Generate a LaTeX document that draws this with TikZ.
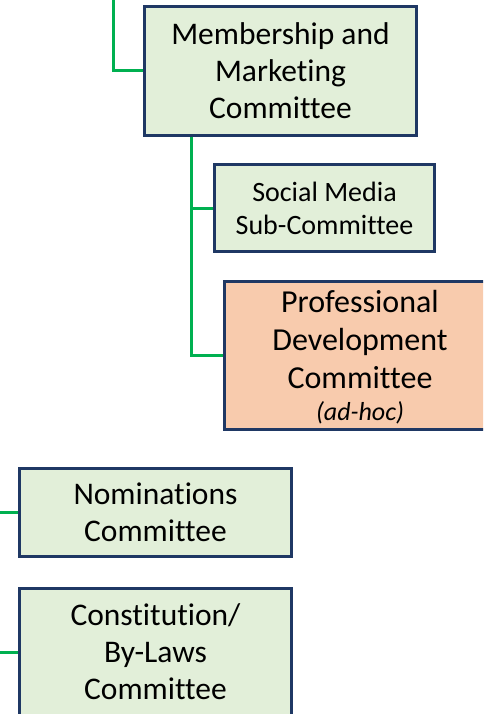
\documentclass[tikz,border=0pt]{standalone}
\usepackage{fontspec}
\setmainfont{Carlito}[Ligatures=NoCommon]
\usepackage{tikz}
\usetikzlibrary{calc}

\definecolor{boxgreen}{HTML}{E2EFD9}
\definecolor{boxpeach}{HTML}{F8CBAD}
\definecolor{boxnavy}{HTML}{1F3864}
\definecolor{linkgreen}{HTML}{00B050}

\begin{document}
\begin{tikzpicture}[x=1pt, y=-1pt,
        committee/.style={draw=boxnavy, line width=3.5pt, fill=boxgreen, align=center,
            inner sep=0pt, font=\fontsize{31.5}{37}\selectfont},
        adhoc/.style={committee, fill=boxpeach},
        link/.style={draw=linkgreen, line width=3pt}]
        \clip (0,0) rectangle (483,714);
        \node[committee, minimum width=272, minimum height=129] (mm) at (280.5, 71)
            {Membership and\\Marketing\\Committee};
        \node[committee, minimum width=220, minimum height=87,
            font=\fontsize{28}{33}\selectfont] (sm) at (324.5, 208)
            {Social Media\\Sub-Committee};
        \node[adhoc, minimum width=271, minimum height=148, text depth=-1pt,
            font=\fontsize{32}{38}\selectfont] (pd) at (360, 355.5)
            {Professional\\Development\\Committee\\[-6pt]{\fontsize{26}{28}\selectfont\itshape (ad-hoc)}};
        \node[committee, minimum width=272, minimum height=88] (nom) at (155.5, 512.5)
            {Nominations\\Committee};
        \node[committee, minimum width=272, minimum height=127] (con) at (155.5, 652)
            {Constitution/\\By-Laws\\Committee};
        % connectors
        \coordinate (top) at (113, 0);
        \coordinate (trunk) at ($(mm.south west)+(49, 0)$);
        \coordinate (nomL) at (0, 512.5);
        \coordinate (conL) at (0, 652);
        \draw[link] (top) |- (mm.west);
        \draw[link] (trunk) |- (sm.west);
        \draw[link] (trunk) |- (pd.west);
        \draw[link] (nomL) -- (nom.west);
        \draw[link] (conL) -- (con.west);
    \end{tikzpicture}
\end{document}
